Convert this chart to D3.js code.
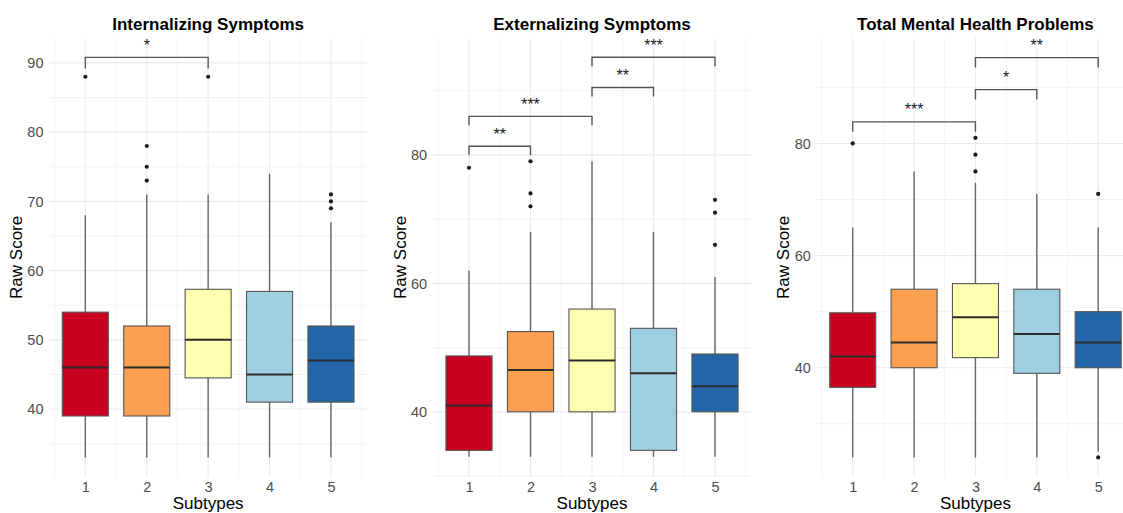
<!DOCTYPE html>
<html>
<head>
<meta charset="utf-8">
<script src="https://cdn.jsdelivr.net/npm/d3@7"></script>
<style>
html,body{margin:0;padding:0;background:#fff;}
svg{display:block;font-family:"Liberation Sans",Arial,Helvetica,sans-serif;}
</style>
</head>
<body>
<svg id="chart" width="1123" height="513"></svg>
<script>
// ---------- data ----------
const subtypes = ["1", "2", "3", "4", "5"];
const fillColors = ["#CA0020", "#FBA050", "#FFFFB0", "#9ECFE1", "#2366A8"];

const titles = ["Internalizing Symptoms", "Externalizing Symptoms", "Total Mental Health Problems"];

// Internalizing
const intLow  = [33, 33, 33, 33, 33];
const intQ1   = [39, 39, 44.5, 41, 41];
const intMed  = [46, 46, 50, 45, 47];
const intQ3   = [54, 52, 57.3, 57, 52];
const intHigh = [68, 71, 71, 74, 67];
const intOut  = [[88], [78, 75, 73], [88], [], [71, 70, 69]];
const intTicks = [40, 50, 60, 70, 80, 90];
const intSigFrom  = [1];
const intSigTo    = [3];
const intSigY     = [90.8];
const intSigLabel = ["*"];

// Externalizing
const extLow  = [33, 33, 33, 33, 33];
const extQ1   = [34, 40, 40, 34, 40];
const extMed  = [41, 46.5, 48, 46, 44];
const extQ3   = [48.7, 52.5, 56, 53, 49];
const extHigh = [62, 68, 79, 68, 61];
const extOut  = [[78], [79, 74, 72], [], [], [73, 71, 66]];
const extTicks = [40, 60, 80];
const extSigFrom  = [1, 1, 3, 3];
const extSigTo    = [2, 3, 4, 5];
const extSigY     = [81.35, 86.0, 90.5, 95.2];
const extSigLabel = ["**", "***", "**", "***"];

// Total
const totLow  = [24, 24, 24, 24, 25];
const totQ1   = [36.5, 40, 41.8, 39, 40];
const totMed  = [42, 44.5, 49, 46, 44.5];
const totQ3   = [49.8, 54, 55, 54, 50];
const totHigh = [65, 75, 73, 71, 65];
const totOut  = [[80], [], [81, 78, 75], [], [71, 24]];
const totTicks = [40, 60, 80];
const totSigFrom  = [1, 3, 3];
const totSigTo    = [3, 4, 5];
const totSigY     = [83.85, 89.6, 95.3];
const totSigLabel = ["***", "*", "**"];

// ---------- layout ----------
const panels = [
  {left: 48.5, right: 367.8, yDomain: [30.23, 93.6], tip: 1.6,
   low: intLow, q1: intQ1, med: intMed, q3: intQ3, high: intHigh, out: intOut, ticks: intTicks,
   sf: intSigFrom, st: intSigTo, sy: intSigY, sl: intSigLabel},
  {left: 432.1, right: 751.9, yDomain: [29.9, 98.2], tip: 1.4,
   low: extLow, q1: extQ1, med: extMed, q3: extQ3, high: extHigh, out: extOut, ticks: extTicks,
   sf: extSigFrom, st: extSigTo, sy: extSigY, sl: extSigLabel},
  {left: 815.9, right: 1135, yDomain: [20.57, 98.8], tip: 1.75,
   low: totLow, q1: totQ1, med: totMed, q3: totQ3, high: totHigh, out: totOut, ticks: totTicks,
   sf: totSigFrom, st: totSigTo, sy: totSigY, sl: totSigLabel}
];
const plotTop = 38, plotBottom = 476.7;
const boxW = 0.75;

const svg = d3.select("#chart");

panels.forEach((p, pi) => {
  const g = svg.append("g");
  const x = d3.scaleLinear().domain([0.4, 5.6]).range([p.left, p.right]);
  const y = d3.scaleLinear().domain(p.yDomain).range([plotBottom, plotTop]);

  // minor horizontal gridlines
  const step = p.ticks[1] - p.ticks[0];
  const minor = [];
  for (let v = p.ticks[0] - step / 2; v <= p.yDomain[1]; v += step) {
    if (v >= p.yDomain[0]) minor.push(v);
  }
  g.selectAll(".hmin").data(minor).join("line")
    .attr("x1", p.left).attr("x2", p.right)
    .attr("y1", d => y(d)).attr("y2", d => y(d))
    .attr("stroke", "#EBEBEB").attr("stroke-width", 0.6);
  g.selectAll(".hmaj").data(p.ticks).join("line")
    .attr("x1", p.left).attr("x2", p.right)
    .attr("y1", d => y(d)).attr("y2", d => y(d))
    .attr("stroke", "#EBEBEB").attr("stroke-width", 1.1);
  // vertical gridlines
  const vmin = [0.5, 1.5, 2.5, 3.5, 4.5, 5.5];
  g.selectAll(".vmin").data(vmin).join("line")
    .attr("x1", d => x(d)).attr("x2", d => x(d))
    .attr("y1", plotTop).attr("y2", plotBottom)
    .attr("stroke", "#EBEBEB").attr("stroke-width", 0.6);
  g.selectAll(".vmaj").data(subtypes).join("line")
    .attr("x1", (d, i) => x(i + 1)).attr("x2", (d, i) => x(i + 1))
    .attr("y1", plotTop).attr("y2", plotBottom)
    .attr("stroke", "#EBEBEB").attr("stroke-width", 1.1);

  // axes
  const yAxis = d3.axisLeft(y).tickValues(p.ticks).tickSize(0).tickPadding(5);
  const ya = g.append("g").attr("transform", `translate(${p.left},0)`).call(yAxis);
  ya.select(".domain").remove();
  ya.selectAll("text").attr("fill", "#4D4D4D").style("font-size", "14.5px")
    .style("font-family", "'Liberation Sans',Arial,sans-serif");

  const xAxis = d3.axisBottom(x).tickValues([1, 2, 3, 4, 5])
    .tickFormat(d => subtypes[d - 1]).tickSize(0).tickPadding(5.5);
  const xa = g.append("g").attr("transform", `translate(0,${plotBottom})`).call(xAxis);
  xa.select(".domain").remove();
  xa.selectAll("text").attr("fill", "#4D4D4D").style("font-size", "14.5px")
    .style("font-family", "'Liberation Sans',Arial,sans-serif");

  const cx = (p.left + p.right) / 2;
  // title
  g.append("text").attr("x", cx).attr("y", 29.5)
    .attr("text-anchor", "middle").attr("font-weight", "bold")
    .attr("font-size", 17).attr("fill", "#000").text(titles[pi]);
  // axis titles
  g.append("text").attr("x", cx).attr("y", 508.5)
    .attr("text-anchor", "middle").attr("font-size", 17).attr("fill", "#000").text("Subtypes");
  g.append("text")
    .attr("transform", `translate(${p.left - 32},${(plotTop + plotBottom) / 2}) rotate(-90)`)
    .attr("text-anchor", "middle").attr("dominant-baseline", "central")
    .attr("font-size", 17).attr("fill", "#000").text("Raw Score");

  // boxes
  const idx = d3.range(subtypes.length);
  const hw = boxW / 2;
  g.selectAll(".wh").data(idx).join("line")
    .attr("x1", i => x(i + 1)).attr("x2", i => x(i + 1))
    .attr("y1", i => y(p.low[i])).attr("y2", i => y(p.high[i]))
    .attr("stroke", "#666").attr("stroke-width", 1.4);
  g.selectAll(".box").data(idx).join("rect")
    .attr("x", i => x(i + 1 - hw)).attr("width", i => x(i + 1 + hw) - x(i + 1 - hw))
    .attr("y", i => y(p.q3[i])).attr("height", i => y(p.q1[i]) - y(p.q3[i]))
    .attr("fill", i => fillColors[i]).attr("stroke", "#555").attr("stroke-width", 1.1);
  g.selectAll(".med").data(idx).join("line")
    .attr("x1", i => x(i + 1 - hw)).attr("x2", i => x(i + 1 + hw))
    .attr("y1", i => y(p.med[i])).attr("y2", i => y(p.med[i]))
    .attr("stroke", "#2b2b2b").attr("stroke-width", 2);
  // outliers
  const pts = [];
  p.out.forEach((arr, i) => arr.forEach(v => pts.push([i + 1, v])));
  g.selectAll(".out").data(pts).join("circle")
    .attr("cx", d => x(d[0])).attr("cy", d => y(d[1])).attr("r", 2.1)
    .attr("fill", "#1a1a1a");

  // significance brackets
  p.sf.forEach((f, k) => {
    const t = p.st[k], yy = p.sy[k];
    const path = d3.path();
    path.moveTo(x(f), y(yy - p.tip));
    path.lineTo(x(f), y(yy));
    path.lineTo(x(t), y(yy));
    path.lineTo(x(t), y(yy - p.tip));
    g.append("path").attr("d", path.toString())
      .attr("fill", "none").attr("stroke", "#555").attr("stroke-width", 1.4);
    g.append("text").attr("x", (x(f) + x(t)) / 2).attr("y", y(yy) - 6.5)
      .attr("text-anchor", "middle").attr("font-size", 16).attr("fill", "#1a1a1a")
      .text(p.sl[k]);
  });
});
</script>
</body>
</html>
